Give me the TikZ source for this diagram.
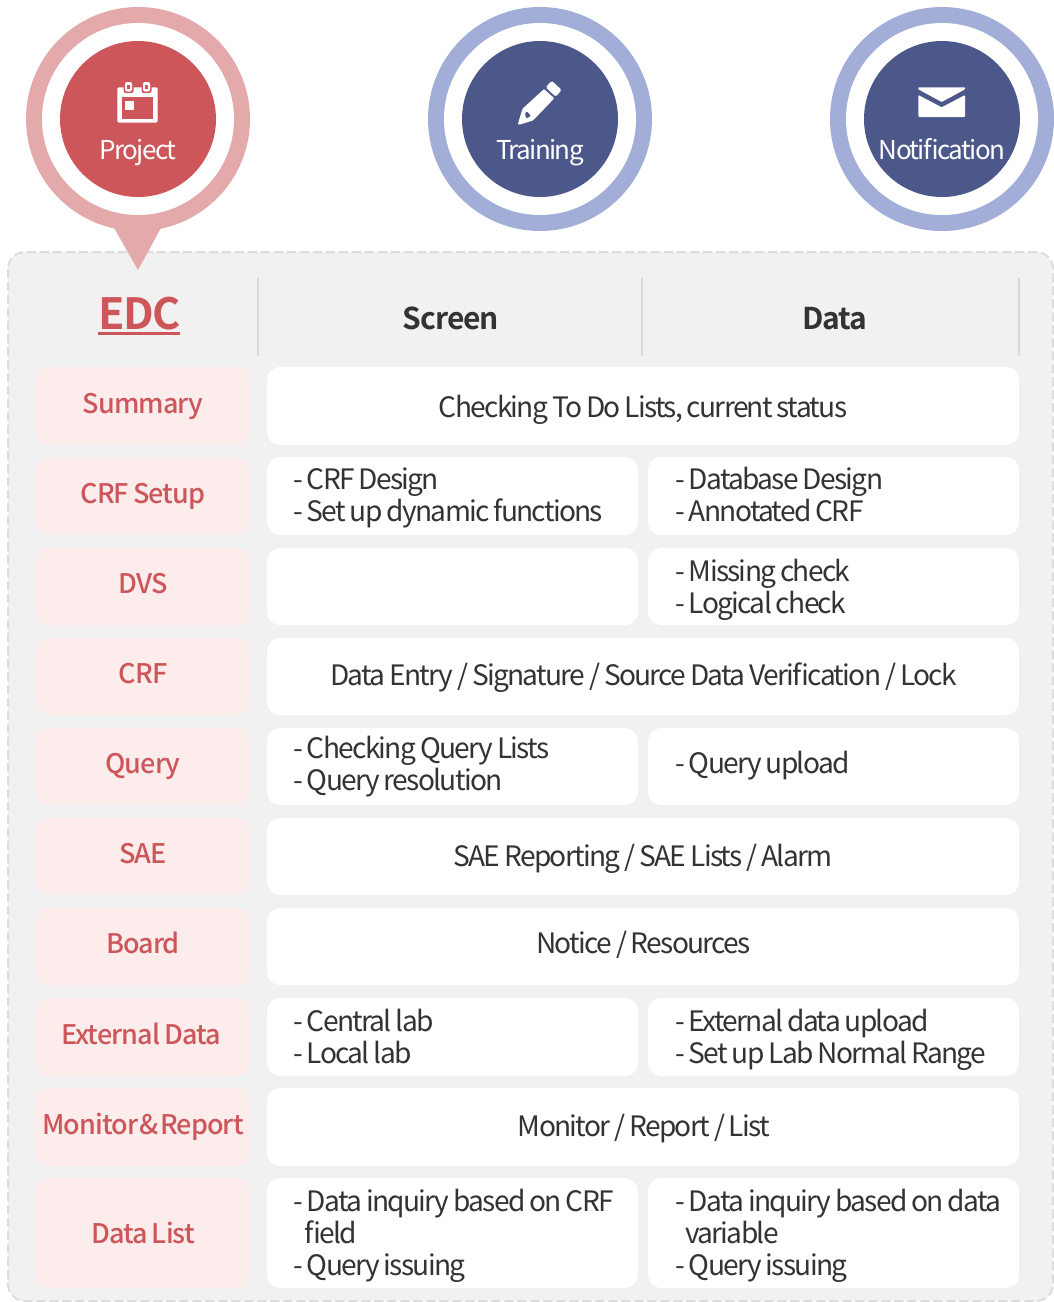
\documentclass[tikz,border=0pt]{standalone}
\usepackage{fontspec}
\setmainfont{Noto Sans CJK KR}[BoldFont={* Bold}]
\newfontfamily\bodyfont{Noto Sans CJK KR}[LetterSpace=-6,WordSpace=0.85]
\newfontfamily\labelfont{Noto Sans CJK KR Medium}[LetterSpace=-3.5,WordSpace=0.8]
\newfontfamily\circfont{Noto Sans CJK KR}[LetterSpace=-6.3]
\newfontfamily\hdrfont{Noto Sans CJK KR}[LetterSpace=-3.5,BoldFont={* Bold}]
\definecolor{ringred}{HTML}{E3A9AB}
\definecolor{corered}{HTML}{CD565A}
\definecolor{ringblue}{HTML}{A2AED8}
\definecolor{coreblue}{HTML}{4C578A}
\definecolor{panelgray}{HTML}{F1F1F1}
\definecolor{dashgray}{HTML}{DCDCDC}
\definecolor{rulegray}{HTML}{D8D8D8}
\definecolor{pink}{HTML}{FCECEC}
\definecolor{ink}{HTML}{333333}
\tikzset{
  cell/.style={fill=white,rounded corners=13pt,draw=none},
  labelcell/.style={fill=pink,rounded corners=13pt,draw=none},
  txt/.style={text=ink,inner sep=0pt,font=\bodyfont\fontsize{28.1}{32}\selectfont},
  lbl/.style={text=corered,inner sep=0pt,font=\labelfont\fontsize{27}{32}\selectfont},
  hdr/.style={text=ink,inner sep=0pt,font=\hdrfont\bfseries\fontsize{30}{32}\selectfont},
  circtxt/.style={text=white,inner sep=0pt,font=\circfont\fontsize{26}{30}\selectfont},
  rulev/.style={draw=rulegray,line width=1.2pt},
}
\newcommand{\rowlabel}[5][7.5]{% offset, name, ytop, ybot, text
  \fill[labelcell] (35,#3) rectangle (250,#4);
  \node[lbl,anchor=base] (#2) at (143,{(#3+#4)/2+#1}) {#5};}
\begin{document}
\begin{tikzpicture}[x=1pt,y=-1pt]
\useasboundingbox (0,0) rectangle (1054,1302);
\fill[white] (0,0) rectangle (1054,1302);
% panel
\draw[draw=dashgray,fill=panelgray,line width=2pt,dash pattern=on 9pt off 4pt,rounded corners=17pt] (8,252) rectangle (1053,1301);
% badges
\fill[ringred] (113,226) -- (138,270) -- (162,226) -- cycle;
\fill[ringred] (138,119) circle[radius=112];
\fill[white] (138,119) circle[radius=96];
\fill[corered] (138,119) circle[radius=78];
\fill[ringblue] (540,119) circle[radius=112];
\fill[white] (540,119) circle[radius=96];
\fill[coreblue] (540,119) circle[radius=78];
\fill[ringblue] (942,119) circle[radius=112];
\fill[white] (942,119) circle[radius=96];
\fill[coreblue] (942,119) circle[radius=78];
% calendar icon
\fill[white,rounded corners=2pt] (117.3,87.3) rectangle (157.7,122.7);
\fill[corered] (121.7,97.3) rectangle (153.3,118.7);
\fill[white] (125,100.7) rectangle (134,110);
\fill[corered,rounded corners=2pt] (123.5,81) rectangle (133.5,93);
\fill[corered,rounded corners=2pt] (141.5,81) rectangle (151.5,93);
\fill[white,rounded corners=2pt] (125,82) rectangle (132,91.5);
\fill[white,rounded corners=2pt] (143,82) rectangle (150,91.5);
\fill[corered] (127.2,84.5) rectangle (129.8,89);
\fill[corered] (145.2,84.5) rectangle (147.8,89);
% pencil icon
\fill[white,rounded corners=1.5pt] (551.7,80.7) -- (561.7,90) -- (555.7,96.7) -- (545.7,87.3) -- cycle;
\fill[white,rounded corners=1pt] (544,89) -- (554.3,98.3) -- (533,120.5) -- (519,124.8) -- (517.8,124) -- (522.5,108.8) -- cycle;
\fill[coreblue,rounded corners=1pt] (525,113) -- (527,111.5) -- (531,116) -- (526,118.5) -- cycle;
% envelope icon
\fill[white,rounded corners=0.7pt] (918.3,87.3) -- (965,87.3) -- (965,89.3) -- (941.7,102) -- (918.3,89.3) -- cycle;
\fill[white,rounded corners=1pt] (918.3,95) -- (941.7,107.3) -- (965,95) -- (965,117) -- (918.3,117) -- cycle;
% badge text
\node[circtxt,anchor=base] (project) at (138,159.5) {Project};
\node[circtxt,anchor=base] (training) at (540,159.5) {Training};
\node[circtxt,anchor=base] (notification) at (942,159.5) {Notification};
% header
\node[text=corered,inner sep=0pt,anchor=base,font=\hdrfont\bfseries\fontsize{43}{46}\selectfont] (edc) at (139.5,329) {EDC};
\fill[corered] (98,332) rectangle (180,335);
\node[hdr,anchor=base] (screen) at (451,329) {Screen};
\node[hdr,anchor=base] (data) at (835,329) {Data};
\draw[rulev] (258,278) -- (258,356);
\draw[rulev] (642,278) -- (642,356);
\draw[rulev] (1019,278) -- (1019,356);
% labels
\rowlabel{summary}{367}{445}{Summary}
\rowlabel{crfsetup}{457}{535}{CRF Setup}
\rowlabel[7]{dvs}{548}{625}{DVS}
\rowlabel[7]{crf}{638}{715}{CRF}
\rowlabel[7]{query}{728}{805}{Query}
\rowlabel[7]{sae}{818}{895}{SAE}
\rowlabel[7]{board}{908}{985}{Board}
\rowlabel{external}{998}{1076}{\kern-4pt External Data}
\rowlabel{monitor}{1088}{1166}{Monitor\kern-2.5pt{} \&\kern-2.5pt{} Report}
\rowlabel[10]{datalist}{1178}{1288}{Data List}
% white cells
\fill[cell] (267,367) rectangle (1019,445);
\fill[cell] (267,457) rectangle (638,535);
\fill[cell] (648,457) rectangle (1019,535);
\fill[cell] (267,548) rectangle (638,625);
\fill[cell] (648,548) rectangle (1019,625);
\fill[cell] (267,638) rectangle (1019,715);
\fill[cell] (267,728) rectangle (638,805);
\fill[cell] (648,728) rectangle (1019,805);
\fill[cell] (267,818) rectangle (1019,895);
\fill[cell] (267,908) rectangle (1019,985);
\fill[cell] (267,998) rectangle (638,1076);
\fill[cell] (648,998) rectangle (1019,1076);
\fill[cell] (267,1088) rectangle (1019,1166);
\fill[cell] (267,1178) rectangle (638,1288);
\fill[cell] (648,1178) rectangle (1019,1288);
% centered text
\node[txt,anchor=base] (t1) at (643,417) {Checking To Do Lists, current status};
\node[txt,anchor=base] (t2) at (643.5,685) {Data Entry / Signature / Source Data Verification / Lock};
\node[txt,anchor=base] (t3) at (643,866) {SAE Reporting / SAE Lists / Alarm};
\node[txt,anchor=base] (t4) at (643.5,953) {Notice / Resources};
\node[txt,anchor=base] (t5) at (644,1136) {Monitor / Report / List};
% left-aligned text
\node[txt,anchor=base west] (a1) at (293,489) {- CRF Design};
\node[txt,anchor=base west] (a2) at (293,521) {- Set up dynamic functions};
\node[txt,anchor=base west] (b1) at (675,489) {- Database Design};
\node[txt,anchor=base west] (b2) at (675,521) {- Annotated CRF};
\node[txt,anchor=base west] (c1) at (675,581) {- Missing check};
\node[txt,anchor=base west] (c2) at (675,613) {- Logical check};
\node[txt,anchor=base west] (d1) at (293,758) {- Checking Query Lists};
\node[txt,anchor=base west] (d2) at (293,790) {- Query resolution};
\node[txt,anchor=base west] (e1) at (675,773) {- Query upload};
\node[txt,anchor=base west] (f1) at (293,1031) {- Central lab};
\node[txt,anchor=base west] (f2) at (293,1063) {- Local lab};
\node[txt,anchor=base west] (g1) at (675,1031) {- External data upload};
\node[txt,anchor=base west] (g2) at (675,1063) {- Set up Lab Normal Range};
\node[txt,anchor=base west] (h1) at (293,1211) {- Data inquiry based on CRF};
\node[txt,anchor=base west] (h2) at (304,1243) {field};
\node[txt,anchor=base west] (h3) at (293,1275) {- Query issuing};
\node[txt,anchor=base west] (i1) at (675,1211) {- Data inquiry based on data};
\node[txt,anchor=base west] (i2) at (685,1243) {variable};
\node[txt,anchor=base west] (i3) at (675,1275) {- Query issuing};
\end{tikzpicture}
\end{document}
